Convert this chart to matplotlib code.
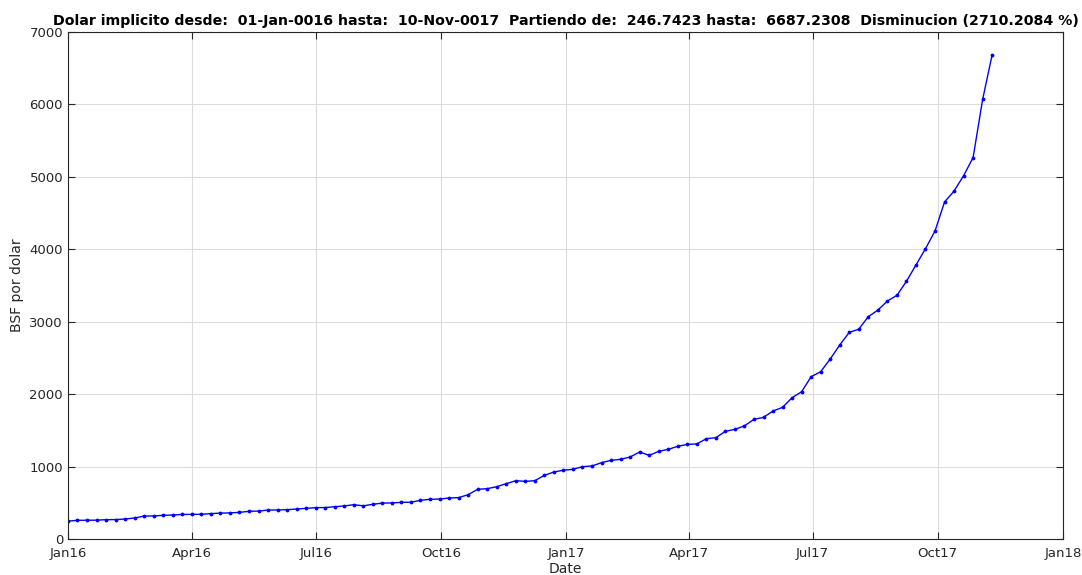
import matplotlib
matplotlib.use("Agg")
import matplotlib.pyplot as plt
import matplotlib.dates as mdates
import pandas as pd
import numpy as np

start_date = "2016-01-01"
end_date = "2017-11-10"
values = [
    246.7423, 258, 259, 260, 267, 268, 276, 290, 317, 318, 327, 331, 339, 340, 341,
    350, 358, 360, 368, 382, 386, 399, 401, 405, 414, 423, 433,
    434, 446, 456, 474, 458, 479, 496, 498, 506, 508, 534, 548, 552, 566, 571,
    612, 686, 695, 722, 764, 805, 796, 805, 879, 925, 950,
    962, 999, 1008, 1054, 1086, 1100, 1132, 1201, 1155, 1210, 1238, 1279, 1307,
    1312, 1385, 1399, 1487, 1514, 1562, 1652,
    1680, 1767, 1818, 1951, 2034, 2241, 2310, 2485, 2678, 2853, 2897, 3070, 3160,
    3286, 3364, 3557, 3783, 4008, 4252, 4653, 4805, 5016, 5267, 6070, 6687.2308,
]
dates = pd.date_range(start_date, end_date, freq="7D")
y_ticks = [0, 1000, 2000, 3000, 4000, 5000, 6000, 7000]
x_ticks = pd.date_range("2016-01-01", "2018-01-01", freq="3MS")

title = ("Dolar implicito desde:  01-Jan-0016 hasta:  10-Nov-0017  Partiendo de:  "
         "246.7423 hasta:  6687.2308  Disminucion (2710.2084 %)")

fig = plt.figure(figsize=(10.82, 5.75), dpi=100)
ax = fig.add_axes([0.0628, 0.0626, 0.9196, 0.8817])

ax.plot(dates, values, color="#0000ff", linewidth=1.0, marker=".", markersize=3.5)

ax.set_xlim(pd.Timestamp("2016-01-01"), pd.Timestamp("2018-01-01"))
ax.set_ylim(0, 7000)
ax.set_yticks(y_ticks)
ax.set_xticks(x_ticks)
ax.xaxis.set_major_formatter(mdates.DateFormatter("%b%y"))

ax.grid(True, color="#dcdcdc", linewidth=0.8)
ax.set_axisbelow(True)
ax.tick_params(direction="in", length=5, width=0.8, colors="#262626",
               labelsize=9.5, top=True, right=True)
ax.tick_params(axis="x", pad=6)
for s in ax.spines.values():
    s.set_color("#262626")
    s.set_linewidth(0.8)

ax.set_xlabel("Date", fontsize=10, color="#262626", labelpad=1)
ax.set_ylabel("BSF por dolar", fontsize=10, color="#262626", labelpad=4)
ax.set_title(title, fontsize=10.15, fontweight="bold", pad=5)

fig.savefig("out.png", dpi=100)
